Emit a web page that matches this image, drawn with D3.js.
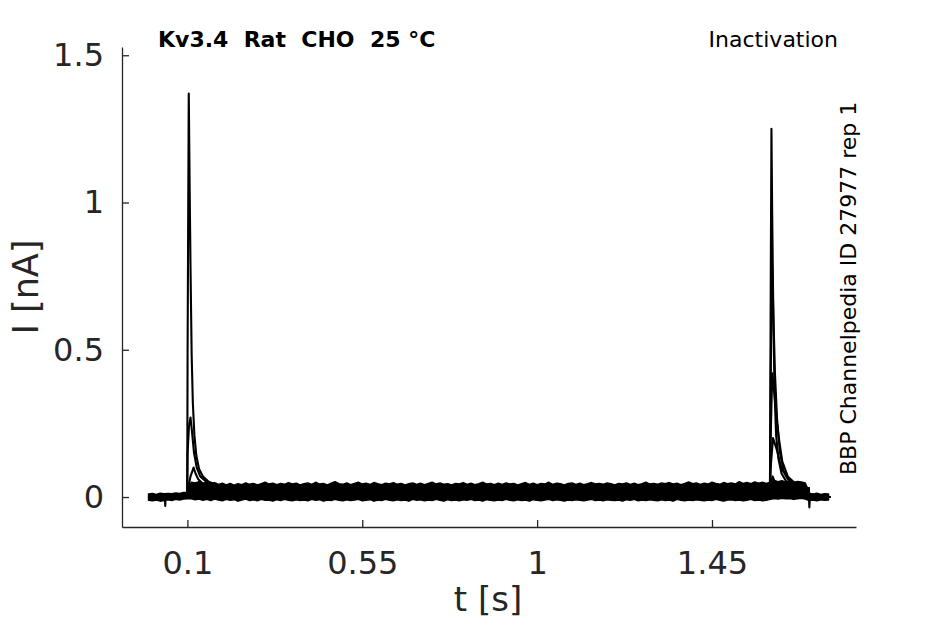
<!DOCTYPE html>
<html>
<head>
<meta charset="utf-8">
<script src="https://d3js.org/d3.v7.min.js"></script>
<style>
body { margin: 0; background: #fff; }
text { font-family: "DejaVu Sans", sans-serif; }
</style>
</head>
<body>
<div id="chart"></div>
<script>
// ticks
var timeTicks = [0.1, 0.55, 1, 1.45];
var currentTicks = [0, 0.5, 1, 1.5];

// noise band of the overlaid sweeps, sampled every 10 ms from t = 0
var bandStart = 0, bandStep = 0.01;
var bandHi = [
  0.010,0.012,0.009,0.013,0.011,0.012,0.011,0.014,0.012,0.015,
  0.016,0.050,0.048,0.052,0.047,0.050,0.044,0.049,0.043,0.047,
  0.041,0.046,0.040,0.045,0.042,0.048,0.043,0.046,0.041,0.045,
  0.050,0.044,0.047,0.042,0.046,0.043,0.049,0.044,0.047,0.041,
  0.045,0.048,0.043,0.050,0.044,0.046,0.041,0.047,0.052,0.045,
  0.043,0.048,0.042,0.046,0.050,0.044,0.047,0.043,0.049,0.045,
  0.042,0.047,0.044,0.049,0.043,0.046,0.041,0.045,0.048,0.043,
  0.047,0.042,0.046,0.050,0.044,0.048,0.043,0.045,0.041,0.046,
  0.044,0.049,0.043,0.047,0.042,0.045,0.050,0.044,0.046,0.042,
  0.047,0.043,0.048,0.044,0.046,0.041,0.045,0.049,0.043,0.047,
  0.042,0.046,0.044,0.050,0.043,0.047,0.045,0.041,0.046,0.048,
  0.043,0.047,0.042,0.045,0.049,0.044,0.046,0.043,0.048,0.045,
  0.041,0.046,0.044,0.048,0.043,0.047,0.042,0.045,0.050,0.044,
  0.046,0.043,0.048,0.045,0.049,0.044,0.047,0.042,0.046,0.051,
  0.045,0.048,0.043,0.047,0.044,0.050,0.046,0.043,0.049,0.045,
  0.048,0.044,0.052,0.046,0.049,0.045,0.051,0.047,0.050,0.046,
  0.050,0.056,0.052,0.055,0.050,0.054,0.049,0.053,0.051,0.048,
  0.012,0.010,0.013,0.009,0.011,0.010
];
var bandLo = [
  -0.011,-0.013,-0.010,-0.014,-0.012,-0.009,-0.012,-0.008,-0.010,-0.007,
  -0.006,-0.006,-0.009,-0.007,-0.011,-0.008,-0.012,-0.007,-0.010,-0.013,
  -0.008,-0.011,-0.009,-0.014,-0.010,-0.007,-0.012,-0.009,-0.013,-0.008,
  -0.011,-0.010,-0.014,-0.009,-0.012,-0.008,-0.011,-0.013,-0.009,-0.012,
  -0.010,-0.013,-0.008,-0.011,-0.009,-0.014,-0.010,-0.012,-0.008,-0.011,
  -0.013,-0.009,-0.012,-0.010,-0.008,-0.013,-0.011,-0.009,-0.014,-0.010,
  -0.012,-0.008,-0.011,-0.013,-0.009,-0.012,-0.010,-0.014,-0.008,-0.011,
  -0.009,-0.013,-0.010,-0.012,-0.008,-0.011,-0.014,-0.009,-0.012,-0.010,
  -0.013,-0.009,-0.011,-0.008,-0.012,-0.010,-0.014,-0.009,-0.011,-0.013,
  -0.010,-0.012,-0.008,-0.011,-0.013,-0.009,-0.012,-0.010,-0.014,-0.009,
  -0.011,-0.013,-0.010,-0.008,-0.012,-0.009,-0.011,-0.014,-0.010,-0.012,
  -0.009,-0.011,-0.013,-0.010,-0.008,-0.012,-0.010,-0.013,-0.009,-0.011,
  -0.012,-0.010,-0.014,-0.009,-0.011,-0.008,-0.013,-0.010,-0.012,-0.009,
  -0.011,-0.013,-0.009,-0.012,-0.010,-0.014,-0.008,-0.011,-0.013,-0.010,
  -0.012,-0.009,-0.011,-0.013,-0.010,-0.012,-0.008,-0.011,-0.014,-0.010,
  -0.009,-0.012,-0.010,-0.013,-0.011,-0.008,-0.012,-0.010,-0.013,-0.011,
  -0.008,-0.005,-0.007,-0.004,-0.006,-0.005,-0.008,-0.006,-0.004,-0.007,
  -0.012,-0.010,-0.013,-0.009,-0.011,-0.010
];

// sweeps [t (s), I (nA)], strongest prepulse first
var sweepA = [[0,0],[0.042,0],[0.043,-0.03],[0.044,0],[0.0995,0],[0.1005,0.5],[0.1035,1.37],[0.1058,1.05],
  [0.108,0.78],[0.111,0.48],[0.114,0.32],[0.118,0.21],[0.123,0.14],[0.13,0.095],[0.14,0.07],[0.155,0.052],
  [0.18,0.038],[0.25,0.025],[1.599,0.025],[1.601,0.04],[1.606,0.07],[1.612,0.05],[1.63,0.035],
  [1.699,0.03],[1.7005,-0.035],[1.702,0],[1.755,0]];
var sweepB = [[0,0],[0.0995,0],[0.1005,0.15],[0.104,0.24],[0.108,0.27],[0.112,0.22],[0.117,0.15],
  [0.124,0.1],[0.133,0.07],[0.15,0.05],[0.2,0.03],[1.599,0.02],[1.601,0.1],[1.607,0.2],[1.617,0.16],
  [1.628,0.1],[1.645,0.06],[1.67,0.04],[1.699,0.03],[1.7005,0],[1.755,0]];
var sweepC = [[0,0],[0.0995,0],[0.102,0.03],[0.108,0.07],[0.116,0.1],[0.121,0.08],[0.128,0.06],
  [0.14,0.045],[0.17,0.035],[0.25,0.025],[1.599,0.02],[1.601,0.2],[1.605,0.42],[1.609,0.37],
  [1.614,0.3],[1.622,0.2],[1.631,0.12],[1.645,0.07],[1.665,0.045],[1.699,0.03],[1.7005,0],[1.755,0]];
var sweepD = [[0,0],[0.0995,0],[0.105,0.02],[0.112,0.035],[0.12,0.03],[0.16,0.02],[1.599,0.02],
  [1.601,0.4],[1.6045,0.79],[1.608,0.62],[1.612,0.42],[1.618,0.25],[1.625,0.15],[1.634,0.09],
  [1.648,0.06],[1.67,0.04],[1.699,0.03],[1.7005,0],[1.755,0]];
var sweepE = [[0,0],[0.0995,0],[0.1005,0.015],[0.2,0.015],[1.5995,0.02],[1.6008,0.6],[1.603,1.25],
  [1.605,0.95],[1.608,0.6],[1.611,0.36],[1.615,0.21],[1.621,0.13],[1.629,0.08],[1.64,0.055],
  [1.66,0.04],[1.699,0.03],[1.7005,0],[1.755,0]];
var sweeps = [sweepE, sweepD, sweepC, sweepB, sweepA];

var W = 945, H = 624;
var svg = d3.select("#chart").append("svg")
    .attr("width", W).attr("height", H)
    .style("background", "#fff");

var x = d3.scaleLinear().domain([-0.0683, 1.8206]).range([122, 856]);
var y = d3.scaleLinear().domain([-0.1018, 1.528]).range([527, 47]);

// noise band
var band = d3.area()
    .x(function(d, i) { return x(bandStart + i * bandStep); })
    .y0(function(d, i) { return y(bandLo[i]); })
    .y1(function(d) { return y(d); });
svg.append("path")
    .attr("d", band(bandHi))
    .attr("fill", "#000")
    .attr("stroke", "#000")
    .attr("stroke-width", 1.5)
    .attr("stroke-linejoin", "round");

var line = d3.line()
    .x(function(d) { return x(d[0]); })
    .y(function(d) { return y(d[1]); });
svg.selectAll(".sweep").data(sweeps).enter().append("path")
    .attr("class", "sweep")
    .attr("d", line)
    .attr("fill", "none")
    .attr("stroke", "#000")
    .attr("stroke-width", 2.1)
    .attr("stroke-linejoin", "round");

// axes
var fmt = function(d) { return String(d); };
var gx = svg.append("g").attr("transform", "translate(0,527)")
    .call(d3.axisBottom(x).tickValues(timeTicks).tickFormat(fmt)
        .tickSizeInner(-7).tickSizeOuter(0).tickPadding(24));
var gy = svg.append("g").attr("transform", "translate(122,0)")
    .call(d3.axisLeft(y).tickValues(currentTicks).tickFormat(fmt)
        .tickSizeInner(-7).tickSizeOuter(0).tickPadding(18));
[gx, gy].forEach(function(g) {
  g.attr("font-family", "DejaVu Sans").attr("font-size", 32);
  g.select(".domain").attr("stroke", "#262626").attr("stroke-width", 1.3);
  g.selectAll(".tick line").attr("stroke", "#262626").attr("stroke-width", 1.3);
  g.selectAll(".tick text").attr("fill", "#262626");
});

// labels
svg.append("text")
    .attr("x", 488).attr("y", 611)
    .attr("text-anchor", "middle")
    .attr("font-size", 34).attr("fill", "#262626")
    .text("t [s]");
svg.append("text")
    .attr("transform", "translate(38,287) rotate(-90)")
    .attr("text-anchor", "middle")
    .attr("font-size", 35).attr("fill", "#262626")
    .text("I [nA]");

svg.append("text")
    .attr("x", 158).attr("y", 47)
    .attr("font-size", 22).attr("font-weight", "bold")
    .style("white-space", "pre")
    .text("Kv3.4  Rat  CHO  25 \u00b0C");
svg.append("text")
    .attr("x", 838).attr("y", 47)
    .attr("text-anchor", "end")
    .attr("font-size", 22)
    .text("Inactivation");
svg.append("text")
    .attr("transform", "translate(856,475) rotate(-90)")
    .attr("font-size", 22)
    .text("BBP Channelpedia ID 27977 rep 1");
</script>
</body>
</html>
